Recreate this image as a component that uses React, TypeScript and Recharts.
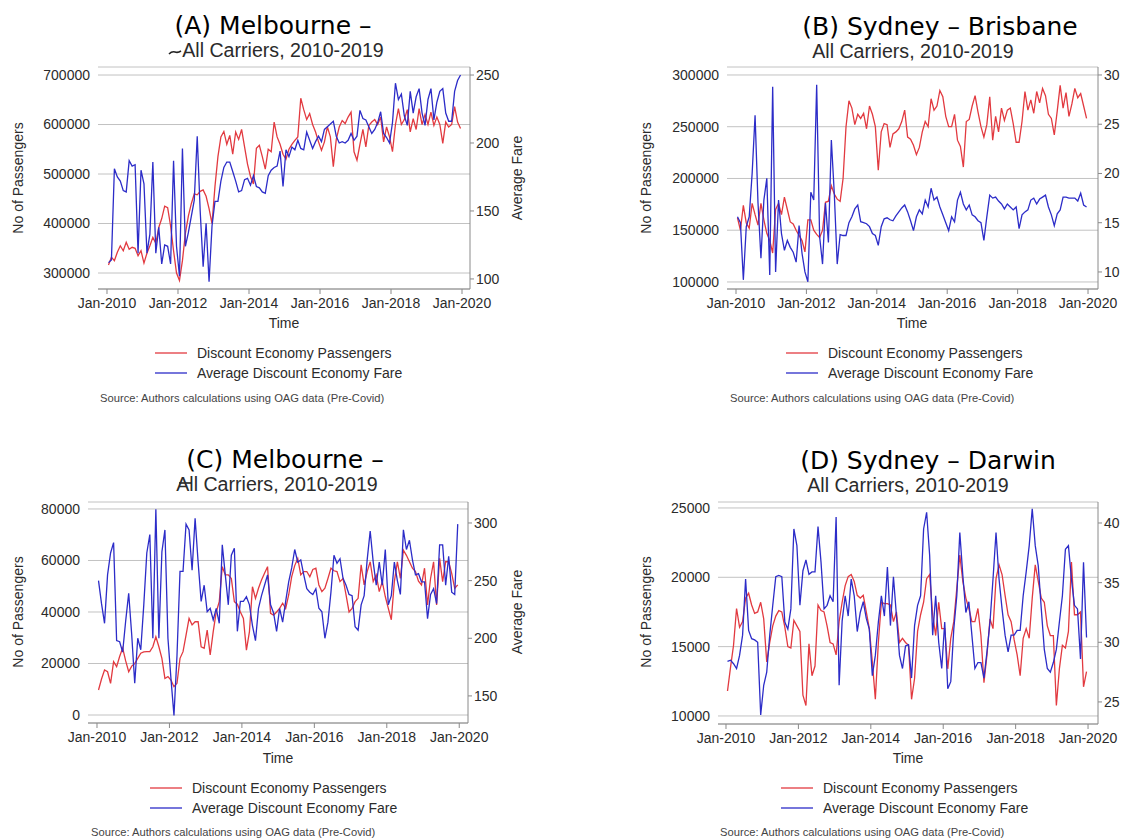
import React from "react";
import { LineChart, Line, XAxis, YAxis, CartesianGrid } from "recharts";

// month ticks every two years
const yearTicks = [0, 24, 48, 72, 96, 120];
const yearLabels = ["Jan-2010", "Jan-2012", "Jan-2014", "Jan-2016", "Jan-2018", "Jan-2020"];

// (A) Melbourne – ... : passengers and average fare, monthly 2010-2019
const melPax = [
  316000, 332000, 325000, 342000, 355000, 345000, 362000, 348000, 352000, 350000, 335000, 345000,
  320000, 340000, 355000, 372000, 360000, 392000, 410000, 435000, 432000, 395000, 345000, 300000,
  285000, 325000, 380000, 415000, 440000, 460000, 458000, 465000, 468000, 455000, 430000, 400000,
  475000, 535000, 575000, 586000, 560000, 578000, 540000, 585000, 570000, 590000, 555000, 520000,
  495000, 480000, 552000, 558000, 535000, 510000, 550000, 545000, 605000, 575000, 560000, 540000,
  530000, 550000, 560000, 568000, 575000, 653000, 630000, 610000, 622000, 600000, 585000, 565000,
  548000, 565000, 595000, 575000, 515000, 570000, 595000, 608000, 602000, 615000, 625000, 545000,
  528000, 560000, 590000, 555000, 598000, 605000, 610000, 600000, 615000, 565000, 595000, 575000,
  545000, 600000, 632000, 600000, 610000, 630000, 585000, 612000, 590000, 632000, 600000, 620000,
  600000, 625000, 598000, 615000, 600000, 562000, 605000, 595000, 600000, 636000, 605000, 592000,
];
const melFare = [
  112, 114, 181, 175, 172, 165, 164, 187, 183, 184, 119, 180,
  170, 119, 133, 186, 119, 138, 111, 125, 124, 111, 187, 124,
  102, 196, 124, 134, 146, 158, 205, 150, 109, 141, 98, 139,
  157, 157, 172, 182, 186, 186, 179, 172, 164, 165, 173, 174,
  169, 176, 168, 167, 164, 163, 176, 180, 182, 183, 194, 168,
  195, 190, 197, 195, 202, 196, 195, 208, 202, 196, 201, 205,
  201, 210, 212, 214, 216, 205, 200, 201, 200, 202, 207, 202,
  205, 224, 218, 217, 212, 207, 210, 215, 223, 207, 204, 200,
  215, 244, 232, 236, 220, 213, 238, 222, 234, 240, 222, 213,
  232, 240, 217, 230, 238, 240, 222, 216, 216, 238, 246, 250,
];

// (B) Sydney – Brisbane
const bnePax = [
  162000, 150000, 174000, 157000, 152000, 176000, 165000, 155000, 176000, 160000, 147000, 140000,
  128000, 170000, 176000, 165000, 182000, 170000, 158000, 156000, 150000, 145000, 140000, 129000,
  160000, 160000, 150000, 146000, 143000, 150000, 177000, 178000, 193000, 185000, 180000, 178000,
  200000, 250000, 275000, 268000, 252000, 262000, 258000, 263000, 248000, 270000, 262000, 250000,
  208000, 245000, 253000, 252000, 230000, 243000, 245000, 248000, 255000, 266000, 240000, 238000,
  232000, 223000, 230000, 245000, 255000, 250000, 277000, 266000, 270000, 285000, 279000, 260000,
  250000, 250000, 262000, 237000, 231000, 211000, 255000, 257000, 270000, 280000, 264000, 250000,
  240000, 252000, 279000, 237000, 260000, 245000, 268000, 256000, 266000, 268000, 253000, 235000,
  235000, 255000, 284000, 266000, 276000, 263000, 284000, 273000, 287000, 280000, 262000, 258000,
  242000, 265000, 290000, 268000, 283000, 260000, 272000, 287000, 278000, 282000, 270000, 258000,
];
const bneFare = [
  156, 150, 92, 146, 156, 200, 259, 170, 114, 173, 195, 97,
  288, 100, 173, 139, 122, 132, 125, 120, 110, 147, 119, 100,
  90, 181, 173, 290, 136, 108, 170, 130, 234, 180, 108, 138,
  137, 137, 150, 156, 164, 168, 151, 150, 149, 146, 139, 137,
  127, 146, 154, 155, 153, 152, 157, 161, 165, 168, 161, 152,
  142, 156, 163, 159, 173, 166, 185, 173, 176, 166, 158, 150,
  142, 156, 151, 173, 181, 169, 163, 168, 158, 156, 152, 150,
  132, 156, 178, 175, 176, 172, 169, 164, 169, 166, 163, 166,
  144, 158, 161, 163, 173, 175, 169, 174, 176, 178, 166, 158,
  147, 159, 163, 176, 176, 175, 175, 175, 172, 180, 168, 166,
];

// (C) Melbourne – ...
const melCPax = [
  9700, 14000, 17500, 16800, 12300, 20700, 18800, 22700, 26000, 21000, 16800, 19000,
  20000, 22000, 24000, 24500, 24600, 24600, 26500, 30400, 26500, 22000, 14200, 14900,
  13600, 11000, 12300, 22000, 24600, 31000, 37500, 35000, 36200, 36200, 26500, 25900,
  33000, 23300, 32400, 40000, 44000, 57600, 54400, 54400, 53000, 44000, 43000, 40000,
  37500, 25200, 32400, 49800, 45300, 49200, 52400, 55000, 57600, 39500, 38800, 40000,
  41400, 43400, 41400, 46600, 53700, 58000, 60800, 54400, 55700, 55700, 53700, 56500,
  57000, 50500, 47900, 49200, 53000, 57000, 56000, 55700, 51800, 53000, 46600, 40000,
  41400, 44000, 45300, 58300, 50500, 55700, 59500, 51800, 54400, 47900, 51800, 46000,
  41400, 37000, 51800, 59500, 53000, 64000, 62000, 59500, 57000, 55700, 52000, 50500,
  57000, 42700, 53000, 59500, 42700, 60800, 51800, 59500, 59500, 55000, 49200, 50500,
];
const melCFare = [
  250, 230, 213, 255, 274, 283, 198, 197, 188, 215, 239, 203,
  161, 200, 190, 229, 274, 290, 200, 312, 200, 275, 294, 200,
  165, 133, 185, 258, 258, 299, 294, 259, 304, 266, 232, 246,
  223, 226, 216, 226, 213, 281, 255, 229, 272, 278, 206, 232,
  232, 236, 229, 211, 198, 226, 237, 246, 255, 229, 222, 206,
  226, 214, 232, 249, 261, 277, 266, 268, 255, 243, 240, 238,
  243, 226, 223, 200, 214, 240, 272, 265, 269, 252, 246, 238,
  237, 210, 207, 229, 237, 268, 293, 266, 246, 266, 246, 277,
  229, 237, 266, 250, 238, 294, 277, 285, 268, 255, 256, 249,
  249, 217, 238, 243, 230, 281, 281, 246, 271, 240, 238, 299,
];

// (D) Sydney – Darwin
const drwPax = [
  11800, 13500, 15100, 17750, 16400, 16800, 18500, 18850, 18000, 17400, 17500, 18200,
  17000, 13900, 15300, 16500, 17200, 17600, 17500, 16400, 15000, 14900, 16900, 16500,
  16100, 11500, 10750, 15200, 12900, 13600, 18000, 17600, 17500, 16500, 15300, 15200,
  14400, 16800, 18200, 19400, 20050, 20200, 19700, 18700, 18500, 18700, 17500, 16300,
  13900, 11200, 15300, 18200, 18100, 18100, 18000, 16800, 17500, 15300, 15600, 15300,
  15100, 11200, 12700, 16100, 17300, 18200, 19900, 20200, 17300, 15800, 18200, 16300,
  16300, 13400, 15600, 16800, 19200, 21600, 19700, 18500, 17750, 16800, 16800, 17750,
  15800, 12400, 14400, 17000, 16300, 19900, 20900, 20200, 18700, 17300, 16800, 15500,
  14400, 12900, 15600, 16300, 15600, 18500, 20900, 19700, 18500, 18200, 16500, 15800,
  15800, 10750, 13400, 15100, 14900, 16100, 21100, 17300, 17300, 17500, 12100, 13200,
];
const drwFare = [
  284, 285, 282, 278, 289, 306, 353, 310, 303, 302, 300, 239,
  264, 275, 306, 331, 355, 356, 355, 317, 311, 328, 395, 381,
  331, 360, 369, 357, 359, 359, 397, 367, 328, 331, 339, 334,
  405, 264, 318, 339, 322, 353, 339, 309, 325, 334, 320, 311,
  272, 289, 317, 339, 322, 363, 314, 355, 322, 289, 278, 297,
  298, 270, 314, 331, 339, 395, 409, 373, 306, 339, 300, 278,
  317, 261, 267, 311, 339, 392, 356, 325, 334, 306, 278, 283,
  283, 270, 292, 317, 353, 392, 353, 328, 306, 292, 306, 306,
  310, 310, 339, 359, 381, 412, 381, 364, 328, 294, 278, 275,
  283, 294, 317, 339, 378, 381, 353, 331, 328, 286, 367, 304,
];

const RED = "#e23a40";
const BLUE = "#2c2cc8";
const AXIS = "#8a8a8a";
const TXT = "#2b2b2b";
const FONT = "'Liberation Sans', Arial, sans-serif";
const TITLE_FONT = "'DejaVu Sans', 'Noto Sans', sans-serif";

const LEFT_W = 90;
const RIGHT_W = 60;
const X_H = 40;
const TOP_PAD = 4;

interface PanelProps {
  x: number;
  y: number;
  w: number;
  h: number;
  pax: number[];
  fare: number[];
  xDomain: [number, number];
  paxDomain: [number, number];
  paxTicks: number[];
  fareDomain: [number, number];
  fareTicks: number[];
  // the right axis of (B) and (D) is cropped in the source: only the first two digits show
  fareFmt?: (v: number) => string;
}

function Panel({ x, y, w, h, pax, fare, xDomain, paxDomain, paxTicks, fareDomain, fareTicks, fareFmt }: PanelProps) {
  const data = pax.map((v, i) => ({ m: i + 0.5, pax: v, fare: fare[i] }));
  const tick = { fill: TXT, fontSize: 14, fontFamily: FONT };
  return (
    <div style={{ position: "absolute", left: x - LEFT_W, top: y - TOP_PAD }}>
      <LineChart
        width={LEFT_W + w + RIGHT_W}
        height={TOP_PAD + h + X_H}
        data={data}
        margin={{ top: TOP_PAD, right: 0, bottom: 0, left: 0 }}
      >
        <CartesianGrid yAxisId="left" vertical={false} stroke="#c2c2c2" />
        <XAxis
          dataKey="m"
          type="number"
          domain={xDomain}
          allowDataOverflow
          ticks={yearTicks}
          interval={0}
          tickFormatter={(v: number) => yearLabels[yearTicks.indexOf(v)]}
          height={X_H}
          tickSize={5}
          tickMargin={4}
          stroke={AXIS}
          tick={tick}
        />
        <YAxis
          yAxisId="left"
          orientation="left"
          width={LEFT_W}
          domain={paxDomain}
          allowDataOverflow
          ticks={paxTicks}
          interval={0}
          axisLine={false}
          tickLine={false}
          tickSize={0}
          tickMargin={8}
          tick={tick}
        />
        <YAxis
          yAxisId="right"
          orientation="right"
          width={RIGHT_W}
          domain={fareDomain}
          allowDataOverflow
          ticks={fareTicks}
          interval={0}
          tickSize={4}
          tickMargin={2}
          tickFormatter={fareFmt}
          stroke={AXIS}
          tick={tick}
        />
        <Line yAxisId="left" type="linear" dataKey="pax" stroke={RED} strokeWidth={1.3} dot={false} isAnimationActive={false} />
        <Line yAxisId="right" type="linear" dataKey="fare" stroke={BLUE} strokeWidth={1.3} dot={false} isAnimationActive={false} />
      </LineChart>
    </div>
  );
}

interface NotesProps {
  title: string;
  titleX: number;
  titleY: number;
  subX: number;
  subY: number;
  leftTitleX: number;
  rightTitleX?: number;
  midY: number;
  timeX: number;
  timeY: number;
  legX: number;
  legY: number;
  srcX: number;
  srcY: number;
}

function Notes(p: NotesProps) {
  return (
    <g>
      <text x={p.titleX} y={p.titleY} textAnchor="middle" fontFamily={TITLE_FONT} fontSize={25} fill="#000">
        {p.title}
      </text>
      <text x={p.subX} y={p.subY} textAnchor="middle" fontFamily={FONT} fontSize={19.6} fill={TXT}>
        All Carriers, 2010-2019
      </text>
      <text
        x={p.leftTitleX}
        y={p.midY}
        transform={`rotate(-90 ${p.leftTitleX} ${p.midY})`}
        textAnchor="middle"
        dominantBaseline="central"
        fontFamily={FONT}
        fontSize={14}
        fill={TXT}
      >
        No of Passengers
      </text>
      {p.rightTitleX !== undefined && (
        <text
          x={p.rightTitleX}
          y={p.midY}
          transform={`rotate(-90 ${p.rightTitleX} ${p.midY})`}
          textAnchor="middle"
          dominantBaseline="central"
          fontFamily={FONT}
          fontSize={14}
          fill={TXT}
        >
          Average Fare
        </text>
      )}
      <text x={p.timeX} y={p.timeY} textAnchor="middle" dominantBaseline="central" fontFamily={FONT} fontSize={14} fill={TXT}>
        Time
      </text>
      <line x1={p.legX} x2={p.legX + 32} y1={p.legY} y2={p.legY} stroke={RED} strokeWidth={1.3} />
      <text x={p.legX + 42} y={p.legY} dominantBaseline="central" fontFamily={FONT} fontSize={14} fill={TXT}>
        Discount Economy Passengers
      </text>
      <line x1={p.legX} x2={p.legX + 32} y1={p.legY + 20} y2={p.legY + 20} stroke={BLUE} strokeWidth={1.3} />
      <text x={p.legX + 42} y={p.legY + 20} dominantBaseline="central" fontFamily={FONT} fontSize={14} fill={TXT}>
        Average Discount Economy Fare
      </text>
      <text x={p.srcX} y={p.srcY} dominantBaseline="central" fontFamily={FONT} fontSize={11.2} fill="#444">
        Source: Authors calculations using OAG data (Pre-Covid)
      </text>
    </g>
  );
}

const croppedFmt = (v: number) => String(v / 10);

export default function App() {
  return (
    <div
      style={{
        position: "absolute",
        left: 0,
        top: 0,
        width: 1126,
        height: 840,
        background: "#fff",
      }}
    >
      <Panel
        x={98}
        y={67}
        w={372}
        h={222}
        pax={melPax}
        fare={melFare}
        xDomain={[-3.04, 122.7]}
        paxDomain={[267700, 716200]}
        paxTicks={[300000, 400000, 500000, 600000, 700000]}
        fareDomain={[92.6, 255.9]}
        fareTicks={[100, 150, 200, 250]}
      />
      <Panel
        x={727}
        y={67}
        w={371}
        h={222}
        pax={bnePax}
        fare={bneFare}
        xDomain={[-3.07, 123.4]}
        paxDomain={[93200, 307700]}
        paxTicks={[100000, 150000, 200000, 250000, 300000]}
        fareDomain={[82.7, 308.1]}
        fareTicks={[100, 150, 200, 250, 300]}
        fareFmt={croppedFmt}
      />
      <Panel
        x={88}
        y={502}
        w={380}
        h={221}
        pax={melCPax}
        fare={melCFare}
        xDomain={[-2.98, 122.9]}
        paxDomain={[-3100, 82700]}
        paxTicks={[0, 20000, 40000, 60000, 80000]}
        fareDomain={[126.5, 318.2]}
        fareTicks={[150, 200, 250, 300]}
      />
      <Panel
        x={718}
        y={502}
        w={380}
        h={222}
        pax={drwPax}
        fare={drwFare}
        xDomain={[-2.65, 123.3]}
        paxDomain={[9420, 25430]}
        paxTicks={[10000, 15000, 20000, 25000]}
        fareDomain={[231.5, 417.6]}
        fareTicks={[250, 300, 350, 400]}
        fareFmt={croppedFmt}
      />
      <svg
        width={1126}
        height={840}
        style={{ position: "absolute", left: 0, top: 0, pointerEvents: "none" }}
      >
        <Notes
          title="(A) Melbourne –"
          titleX={273}
          titleY={34}
          subX={283}
          subY={57}
          leftTitleX={18}
          rightTitleX={517}
          midY={178}
          timeX={284}
          timeY={323}
          legX={155}
          legY={353}
          srcX={100}
          srcY={398}
        />
        {/* stray dash strokes left over in the pasted titles */}
        <path d="M169 54 Q172 51 175 52 T181 51" fill="none" stroke="#222" strokeWidth={1.6} />
        <line x1={179} x2={191} y1={483} y2={483} stroke="#222" strokeWidth={1.6} />
        <Notes
          title="(B) Sydney – Brisbane"
          titleX={940}
          titleY={35}
          subX={913}
          subY={58}
          leftTitleX={646}
          midY={178}
          timeX={912}
          timeY={323}
          legX={786}
          legY={353}
          srcX={730}
          srcY={398}
        />
        <Notes
          title="(C) Melbourne –"
          titleX={285}
          titleY={468}
          subX={277}
          subY={491}
          leftTitleX={18}
          rightTitleX={517}
          midY={612}
          timeX={278}
          timeY={758}
          legX={150}
          legY={788}
          srcX={91}
          srcY={832}
        />
        <Notes
          title="(D) Sydney – Darwin"
          titleX={928}
          titleY={469}
          subX={908}
          subY={492}
          leftTitleX={646}
          midY={612}
          timeX={908}
          timeY={758}
          legX={781}
          legY={788}
          srcX={720}
          srcY={832}
        />
      </svg>
    </div>
  );
}
